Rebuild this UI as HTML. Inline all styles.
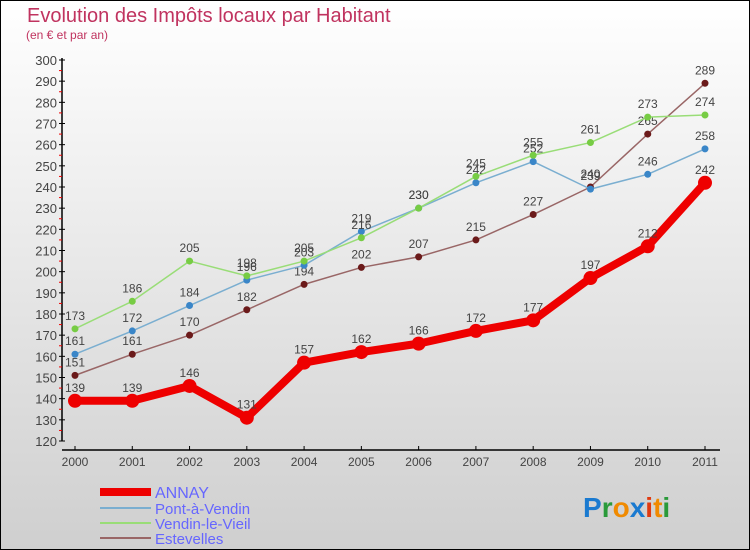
<!DOCTYPE html>
<html><head><meta charset="utf-8"><style>
body{margin:0}
#c{width:750px;height:550px;position:relative;box-sizing:border-box;border:1px solid #000;background:linear-gradient(#fff,#cfcfcf);font-family:"Liberation Sans",sans-serif;overflow:hidden}
</style></head><body>
<div id="c">
<svg width="750" height="550" style="position:absolute;left:-1px;top:-1px" id="svg">
<text x="27" y="22" font-size="20" fill="#c0335f">Evolution des Impôts locaux par Habitant</text>
<text x="26" y="39" font-size="12" fill="#c0335f">(en € et par an)</text>
<g id="axes"></g><g id="series"></g>
<g>
<line x1="100" y1="492" x2="151" y2="492" stroke="#e00" stroke-width="8"/>
<text x="155" y="498" font-size="16" fill="#6666ff">ANNAY</text>
<line x1="100" y1="508" x2="151" y2="508" stroke="#7aaed0" stroke-width="2"/>
<text x="155" y="514" font-size="15" fill="#6666ff">Pont-à-Vendin</text>
<line x1="100" y1="523" x2="151" y2="523" stroke="#99dd77" stroke-width="2"/>
<text x="155" y="529" font-size="15" fill="#6666ff">Vendin-le-Vieil</text>
<line x1="100" y1="538" x2="151" y2="538" stroke="#996666" stroke-width="2"/>
<text x="155" y="544" font-size="15" fill="#6666ff">Estevelles</text>
</g>
<g font-size="28" font-weight="bold">
<text x="583" y="517"><tspan fill="#1a7ad0">P</tspan><tspan fill="#2a9a3a">r</tspan><tspan fill="#f08a00">o</tspan><tspan fill="#1a7ad0">x</tspan><tspan fill="#e03a10">i</tspan><tspan fill="#f08a00">t</tspan><tspan fill="#2a9a3a">i</tspan></text>
</g>
</svg>
</div>
<script>
const years=["2000","2001","2002","2003","2004","2005","2006","2007","2008","2009","2010","2011"];
const annay=[139,139,146,131,157,162,166,172,177,197,212,242];
const pont=[161,172,184,196,203,219,230,242,252,239,246,258];
const vendin=[173,186,205,198,205,216,230,245,255,261,273,274];
const estevelles=[151,161,170,182,194,202,207,215,227,240,265,289];
const yTicks=[120,130,140,150,160,170,180,190,200,210,220,230,240,250,260,270,280,290,300];
const NS="http://www.w3.org/2000/svg";
const X=i=>75+i*(705-75)/11;
const Y=v=>441-(v-120)*(441-60)/180;
function mk(t,a,p){const e=document.createElementNS(NS,t);for(const k in a)e.setAttribute(k,a[k]);p.appendChild(e);return e;}
const ax=document.getElementById('axes');
mk('line',{x1:62,y1:58,x2:62,y2:441,stroke:'#000','stroke-width':1.5},ax);
mk('line',{x1:62,y1:450,x2:720,y2:450,stroke:'#000','stroke-width':1.5},ax);
yTicks.forEach(v=>{
 mk('line',{x1:59,y1:Y(v),x2:65,y2:Y(v),stroke:'#000'},ax);
 if(v<300)mk('line',{x1:59,y1:Y(v+5),x2:62,y2:Y(v+5),stroke:'#e00'},ax);
 const t=mk('text',{x:57,y:Y(v)+5,'font-size':13,fill:'#444','text-anchor':'end'},ax);t.textContent=v;
 
 
});
years.forEach((y,i)=>{
 mk('line',{x1:X(i),y1:446,x2:X(i),y2:450,stroke:'#000'},ax);
 const t=mk('text',{x:X(i),y:466,'font-size':12,fill:'#444','text-anchor':'middle'},ax);t.textContent=y;
 
 
});
const sg=document.getElementById('series');
function draw(vals,name,line,dot,w,r){
 const g=mk('g',{},sg);
 
 
 mk('polyline',{points:vals.map((v,i)=>X(i)+','+Y(v)).join(' '),fill:'none',stroke:line,'stroke-width':w,'stroke-linejoin':'round'},g);
 vals.forEach((v,i)=>{
  const c=mk('circle',{cx:X(i),cy:Y(v),r:r,fill:dot},g);
  
  
  const t=mk('text',{x:X(i),y:Y(v)-9,'font-size':12,fill:'#444','text-anchor':'middle'},g);t.textContent=v;
  
  
 });
}
draw(estevelles,'estevelles','#996666','#6b1a1a',1.5,3.5);
draw(pont,'pont-a-vendin','#7aaed0','#3a86c8',1.5,3.5);
draw(vendin,'vendin-le-vieil','#99dd77','#77cc44',1.5,3.5);
draw(annay,'annay','#e00','#e00',8,7);
</script>
</body></html>
